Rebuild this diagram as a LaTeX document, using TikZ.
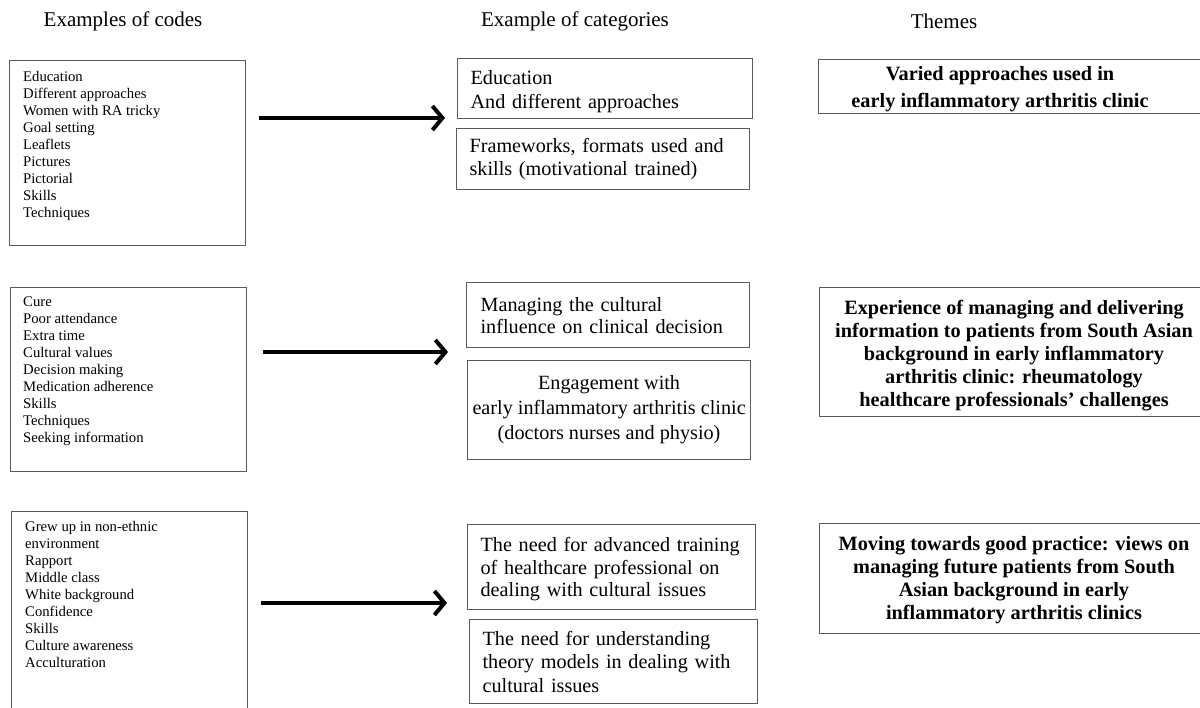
\documentclass[tikz,border=0pt]{standalone}
\usepackage{fontspec}
\setmainfont{Liberation Serif}
\usetikzlibrary{arrows.meta}
\definecolor{boxgrey}{HTML}{5A5A5A}

\tikzset{
  codebox/.style={draw=boxgrey, line width=1.2pt, anchor=north west, minimum width=236pt},
  codelist/.style={anchor=north west, inner sep=0pt, align=left, font=\fontsize{14.7}{17}\selectfont},
  catbox/.style={draw=boxgrey, line width=1.2pt, anchor=north west, inner xsep=13pt, inner ysep=2pt, align=left, font=\fontsize{20.2}{23.5}\selectfont},
  themebox/.style={draw=boxgrey, line width=1.2pt, anchor=north west, minimum width=400pt},
  themetext/.style={align=center, inner sep=0pt, font=\bfseries\fontsize{20.3}{23}\selectfont},
  heading/.style={font=\fontsize{21}{25}\selectfont},
  flow/.style={line width=4pt, -{Straight Barb[length=10pt,width=24pt]}}
}

\begin{document}
\begin{tikzpicture}[x=1pt, y=-1pt]
    \useasboundingbox (0,0) rectangle (1200,708);
    % column headings
    \node[heading] (hcodes) at (123,21) {Examples of codes};
    \node[heading] (hcats) at (575,21) {Example of categories};
    \node[heading] (hthemes) at (944,21) {Themes};
    % codes
    \node[codebox, minimum height=185pt] (codesA) at (9,60) {};
    \node[codelist] (listA) at (23,71) {Education\\Different approaches\\Women with RA tricky\\Goal setting\\Leaflets\\Pictures\\Pictorial\\Skills\\Techniques};
    \node[codebox, minimum height=184pt] (codesB) at (10,287) {};
    \node[codelist] (listB) at (23,297) {Cure\\Poor attendance\\Extra time\\Cultural values\\Decision making\\Medication adherence\\Skills\\Techniques\\Seeking information};
    \node[codebox, minimum height=215pt] (codesC) at (11,511) {};
    \node[codelist] (listC) at (25,521) {Grew up in non-ethnic\\environment\\Rapport\\Middle class\\White background\\Confidence\\Skills\\Culture awareness\\Acculturation};
    % categories
    \node[catbox, text width=269pt, minimum height=60pt, font=\fontsize{20.2}{24.5}\selectfont] (catA) at (457,58) {\rule{0pt}{20pt}Education\\And different approaches};
    \node[catbox, text width=267pt, minimum height=61pt] (catB) at (456,128) {Frameworks, formats used and\\skills (motivational trained)};
    \node[catbox, inner xsep=14pt, text width=255pt, minimum height=65pt, font=\fontsize{20.2}{22}\selectfont] (catC) at (466,282) {Managing the cultural\\influence on clinical decision};
    \node[catbox, align=center, inner xsep=0pt, minimum width=283pt, minimum height=99pt, font=\fontsize{20.2}{25}\selectfont] (catD) at (467,360) {Engagement with\\early inflammatory arthritis clinic\\(doctors nurses and physio)};
    \node[catbox, text width=262pt, minimum height=85pt, font=\fontsize{20.2}{22.5}\selectfont] (catE) at (467,524) {\rule{0pt}{19pt}The need for advanced training\\of healthcare professional on\\dealing with cultural issues};
    \node[catbox, text width=262pt, minimum height=84pt] (catF) at (469,619) {The need for understanding\\theory models in dealing with\\cultural issues};
    % themes
    \node[themebox, minimum height=54pt] (themeA) at (818,59) {};
    \node[themetext, font=\bfseries\fontsize{20.3}{27}\selectfont] (themeAtext) at (1000,89) {Varied approaches used in\\early inflammatory arthritis clinic};
    \node[themebox, minimum height=129pt] (themeB) at (819,287) {};
    \node[themetext] (themeBtext) at (1014,355.5) {Experience of managing and delivering\\information to patients from South Asian\\background in early inflammatory\\arthritis clinic: rheumatology\\healthcare professionals’ challenges};
    \node[themebox, minimum height=110pt] (themeC) at (819,523) {};
    \node[themetext] (themeCtext) at (1014,580.5) {Moving towards good practice: views on\\managing future patients from South\\Asian background in early\\inflammatory arthritis clinics};
    % arrows
    \coordinate (midA) at (0,118);
    \coordinate (midB) at (0,352);
    \coordinate (midC) at (0,603);
    \draw[flow] ([xshift=13pt]codesA.east |- midA) -- ([xshift=-12pt]catA.west |- midA);
    \draw[flow] ([xshift=16pt]codesB.east |- midB) -- ([xshift=-18pt]catC.west |- midB);
    \draw[flow] ([xshift=13pt]codesC.east |- midC) -- ([xshift=-20pt]catE.west |- midC);
\end{tikzpicture}
\end{document}
